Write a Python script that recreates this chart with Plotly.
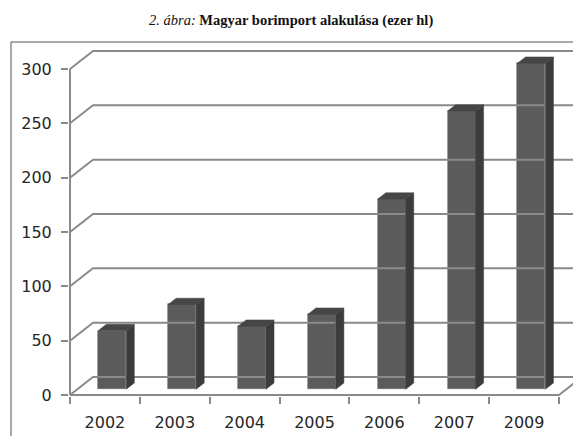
import plotly.graph_objects as go

# ---- data ----
categories = ["2002", "2003", "2004", "2005", "2006", "2007", "2009"]
values = [54, 78, 58, 69, 175, 256, 300]
y_ticks = [0, 50, 100, 150, 200, 250, 300]
y_max = 300

# ---- layout constants (pixels, page offset of 8 px removed) ----
OFF = 8
W, H = 581 - OFF, 436 - OFF
AX_X = 70 - OFF          # front value axis x
FLOOR_Y = 395 - OFF      # front floor y (value 0)
TOP_Y = 69 - OFF         # value 300 on front axis
RIGHT_X = 559 - OFF      # front floor right end
BOX_X, BOX_Y = 11 - OFF, 42 - OFF
TITLE_X, TITLE_Y = 291 - OFF, 20 - OFF
DEPTH_PX_X, DEPTH_PX_Y = 23, 18
ML, MR, MT, MB = AX_X - 1, 0, BOX_Y, H - FLOOR_Y - 1

n = len(categories)
kx = (RIGHT_X - AX_X) / n
ky = (FLOOR_Y - TOP_Y) / y_max
dx = DEPTH_PX_X / kx
dy = DEPTH_PX_Y / ky
x_lo = -(AX_X - ML) / kx
x_hi = (W - MR - AX_X) / kx
y_lo = -((H - MB) - FLOOR_Y) / ky
y_hi = (FLOOR_Y - MT) / ky
PW, PH = W - ML - MR, H - MT - MB

grid_color = "#8a8a8a"
fig = go.Figure()

# walls / gridlines
gx, gy = [], []
for v in y_ticks:
    gx += [0, dx, x_hi + 1, None]
    gy += [v, v + dy, v + dy, None]
# floor front and right edge, front axis
gx += [0, n, n + dx, None, 0, 0, None]
gy += [0, 0, dy, None, 0, y_max, None]
fig.add_trace(go.Scatter(x=gx, y=gy, mode="lines",
                         line=dict(color=grid_color, width=2),
                         hoverinfo="skip", showlegend=False))

# bars
f_front, f_back, bw = 0.32, 0.67, 0.40
centers = [i + 0.5 for i in range(n)]
fig.add_trace(go.Bar(x=[c + f_front * dx for c in centers], y=values,
                     base=f_front * dy, width=bw,
                     marker=dict(color="#5b5b5b", line=dict(color="#6e6e6e", width=0.6)),
                     showlegend=False, hoverinfo="skip"))
sx, sy, tx, ty = [], [], [], []
for c, v in zip(centers, values):
    xl, xr = c - bw / 2, c + bw / 2
    sx += [xr + f_front * dx, xr + f_back * dx, xr + f_back * dx, xr + f_front * dx, xr + f_front * dx, None]
    sy += [f_front * dy, f_back * dy, v + f_back * dy, v + f_front * dy, f_front * dy, None]
    tx += [xl + f_front * dx, xl + f_back * dx, xr + f_back * dx, xr + f_front * dx, xl + f_front * dx, None]
    ty += [v + f_front * dy, v + f_back * dy, v + f_back * dy, v + f_front * dy, v + f_front * dy, None]
fig.add_trace(go.Scatter(x=sx, y=sy, mode="lines", fill="toself", fillcolor="#3c3c3c",
                         line=dict(color="#3c3c3c", width=0.5), hoverinfo="skip", showlegend=False))
fig.add_trace(go.Scatter(x=tx, y=ty, mode="lines", fill="toself", fillcolor="#464646",
                         line=dict(color="#464646", width=0.5), hoverinfo="skip", showlegend=False))

tick_font = dict(family="DejaVu Sans", size=16, color="#262626")
fig.update_layout(
    width=W, height=H,
    margin=dict(l=ML, r=MR, t=MT, b=MB, pad=0),
    paper_bgcolor="white", plot_bgcolor="rgba(0,0,0,0)",
    bargap=0,
    xaxis=dict(range=[x_lo, x_hi], tickmode="array", tickvals=centers, ticktext=categories,
               ticks="", showgrid=False, zeroline=False, showline=False,
               tickfont=tick_font, ticklabelstandoff=15,
               minor=dict(tickmode="array", tickvals=list(range(n + 1)), ticks="outside",
                          ticklen=7, tickwidth=2, tickcolor=grid_color, showgrid=False)),
    yaxis=dict(range=[y_lo, y_hi], tickmode="array", tickvals=y_ticks,
               ticks="outside", ticklen=7, tickwidth=2, tickcolor=grid_color,
               showgrid=False, zeroline=False, showline=False,
               tickfont=tick_font, ticklabelstandoff=6),
    shapes=[dict(type="rect", xref="paper", yref="paper",
                 x0=(BOX_X - ML) / PW, x1=1.05, y0=-0.2, y1=1.0,
                 line=dict(color="#555555", width=1), fillcolor="rgba(0,0,0,0)", layer="below")],
    annotations=[dict(xref="paper", yref="paper", x=(TITLE_X - ML) / PW,
                      y=1 + (MT - TITLE_Y) / PH, xanchor="center", yanchor="middle",
                      showarrow=False,
                      text="<i>2. ábra:</i> <b>Magyar borimport alakulása (ezer hl)</b>",
                      font=dict(family="Liberation Serif", size=14.5, color="#111111"))],
)
fig.write_html("out.html")
